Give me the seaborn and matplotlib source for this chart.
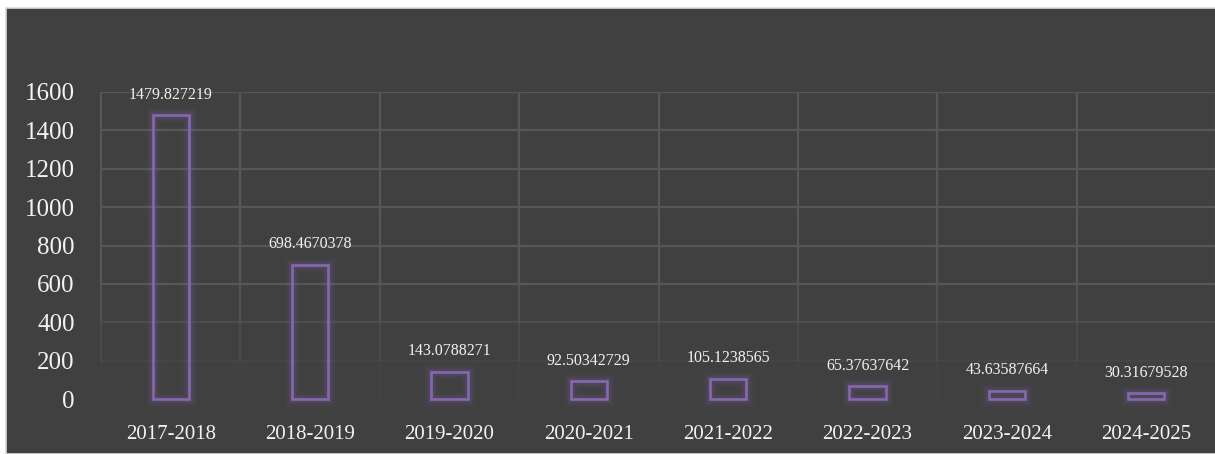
import matplotlib
matplotlib.use("Agg")
import matplotlib.pyplot as plt
import matplotlib.patheffects as pe
from matplotlib.patches import Rectangle
import seaborn as sns
import pandas as pd

categories = ["2017-2018", "2018-2019", "2019-2020", "2020-2021",
              "2021-2022", "2022-2023", "2023-2024", "2024-2025"]
values = [1479.827219, 698.4670378, 143.0788271, 92.50342729,
          105.1238565, 65.37637642, 43.63587664, 30.31679528]
value_labels = ["1479.827219", "698.4670378", "143.0788271", "92.50342729",
                "105.1238565", "65.37637642", "43.63587664", "30.31679528"]
yticks = [0, 200, 400, 600, 800, 1000, 1200, 1400, 1600]

sns.set_theme(style="dark")
plt.rcParams['font.family'] = ['Liberation Serif', 'DejaVu Serif']

BG = "#404040"
PURPLE = "#8767b0"
GRID = "#575757"
TXT = "#f2f2f2"

W, H = 1215, 454
fig = plt.figure(figsize=(W / 100, H / 100), dpi=100)
fig.patch.set_facecolor("white")
bg = Rectangle((6 / W, 0), 1.0, (H - 8) / H, transform=fig.transFigure,
               facecolor=BG, edgecolor="#d9d9d9", linewidth=1.2, zorder=-10)
fig.add_artist(bg)

ax = fig.add_axes([101 / W, (H - 399) / H, 1115 / W, 307 / H])
ax.set_facecolor("none")
ax.set_zorder(1)

df = pd.DataFrame({"period": categories, "value": values})
sns.barplot(data=df, x="period", y="value", ax=ax, fill=False, color=PURPLE,
            width=0.26, linewidth=1.9, zorder=3)
for p in ax.patches:
    p.set_edgecolor(PURPLE)
    p.set_path_effects([pe.Stroke(linewidth=11, foreground=PURPLE, alpha=0.05),
                        pe.Stroke(linewidth=8, foreground=PURPLE, alpha=0.07),
                        pe.Stroke(linewidth=5, foreground=PURPLE, alpha=0.12),
                        pe.Normal()])
    p.set_clip_on(False)

ax.set_ylim(0, 1600)
ax.set_xlim(-0.5, 7.5)

def grid_alpha(y):
    if y >= 600:
        return 1.0
    if y >= 400:
        return 0.55
    if y >= 200:
        return 0.25
    return 0.0

# horizontal grid
for y in yticks:
    a = grid_alpha(y)
    if a > 0:
        ax.axhline(y, color=GRID, linewidth=1.6, alpha=a, zorder=1)
# vertical grid (category boundaries) fading toward the bottom
for i in range(len(categories) + 1):
    xb = i - 0.5
    for y0, y1 in zip(yticks[:-1], yticks[1:]):
        a = grid_alpha(y0 + 100) if y0 >= 600 else grid_alpha(y1) * 0.8
        if y0 < 200:
            a = 0.12
        ax.plot([xb, xb], [y0, y1], color=GRID, linewidth=1.6, alpha=a,
                zorder=1, solid_capstyle="butt", clip_on=False)

for i, (v, lab) in enumerate(zip(values, value_labels)):
    ax.annotate(lab, (i, v), xytext=(0, 9), textcoords="offset points",
                ha="center", va="bottom", color=TXT, fontsize=11.5)

ax.set_yticks(yticks)
ax.set_yticklabels([str(t) for t in yticks])
ax.tick_params(axis="y", labelsize=18, colors=TXT, pad=19, length=0)
ax.tick_params(axis="x", labelsize=15, colors=TXT, pad=19, length=0)
ax.set_xlabel("")
ax.set_ylabel("")
ax.grid(False)
for s in ax.spines.values():
    s.set_visible(False)

fig.savefig("out.png", dpi=100, facecolor=fig.get_facecolor())
